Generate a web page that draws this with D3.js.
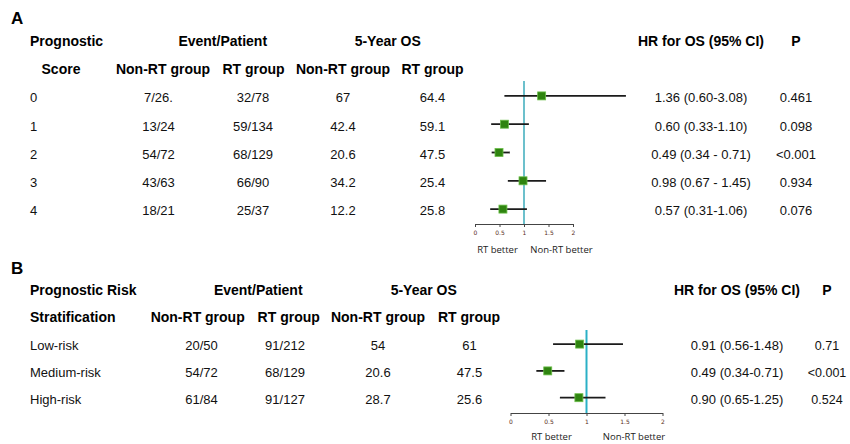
<!DOCTYPE html>
<html>
<head>
<meta charset="utf-8">
<script src="https://cdn.jsdelivr.net/npm/d3@7"></script>
<style>
  html, body { margin: 0; padding: 0; background: #fff; }
  svg { display: block; font-family: "Liberation Sans", Arial, sans-serif; }
</style>
</head>
<body>
<svg id="chart" width="850" height="444"></svg>
<script>
// ---- Panel A: prognostic score ----
const scoreLabels = ["0", "1", "2", "3", "4"];
const scoreNonRtEvents = ["7/26.", "13/24", "54/72", "43/63", "18/21"];
const scoreRtEvents = ["32/78", "59/134", "68/129", "66/90", "25/37"];
const scoreNonRtOs = ["67", "42.4", "20.6", "34.2", "12.2"];
const scoreRtOs = ["64.4", "59.1", "47.5", "25.4", "25.8"];
const scoreHr = [1.36, 0.60, 0.49, 0.98, 0.57];
const scoreLo = [0.60, 0.33, 0.34, 0.67, 0.31];
const scoreHi = [3.08, 1.10, 0.71, 1.45, 1.06];
const scoreSep = ["-", "-", " - ", " - ", "-"];
const scoreP = ["0.461", "0.098", "<0.001", "0.934", "0.076"];

// ---- Panel B: prognostic risk stratification ----
const riskLabels = ["Low-risk", "Medium-risk", "High-risk"];
const riskNonRtEvents = ["20/50", "54/72", "61/84"];
const riskRtEvents = ["91/212", "68/129", "91/127"];
const riskNonRtOs = ["54", "20.6", "28.7"];
const riskRtOs = ["61", "47.5", "25.6"];
const riskHr = [0.91, 0.49, 0.90];
const riskLo = [0.56, 0.34, 0.65];
const riskHi = [1.48, 0.71, 1.25];
const riskSep = ["-", "-", "-"];
const riskP = ["0.71", "<0.001", "0.524"];

const axisTicks = [0, 0.5, 1, 1.5, 2];

const svg = d3.select("#chart");
const f2 = d3.format(".2f");

function panel(cfg) {
  const g = svg.append("g");
  const n = cfg.labels.length;

  // panel letter
  g.append("text").attr("x", 11).attr("y", cfg.letterY).attr("dy", "0.35em")
    .attr("font-size", 17).attr("font-weight", "bold").text(cfg.letter);

  // header rows
  const hdr = (x, y, t, anchor) => g.append("text").attr("x", x).attr("y", y)
    .attr("dy", "0.35em").attr("font-size", 14).attr("font-weight", "bold")
    .attr("text-anchor", anchor || "middle").text(t);
  hdr(30, cfg.h1, cfg.head1, "start");
  hdr(cfg.head2X, cfg.h2, cfg.head2, cfg.head2Anchor);
  hdr((cfg.cols[0] + cfg.cols[1]) / 2 + cfg.epShift, cfg.h1, "Event/Patient");
  hdr((cfg.cols[2] + cfg.cols[3]) / 2, cfg.h1, "5-Year OS");
  hdr(cfg.headCols[0], cfg.h2, "Non-RT group");
  hdr(cfg.headCols[1], cfg.h2, "RT group");
  hdr(cfg.headCols[2], cfg.h2, "Non-RT group");
  hdr(cfg.headCols[3], cfg.h2, "RT group");
  hdr(cfg.hrX, cfg.h1, "HR for OS (95% CI)");
  hdr(cfg.pX, cfg.h1, "P");

  // row positions
  const y = d3.scalePoint().domain(d3.range(n))
    .range([cfg.rowTop, cfg.rowTop + cfg.rowStep * (n - 1)]);

  const cell = (x, i, t, anchor, size) => g.append("text").attr("x", x).attr("y", y(i))
    .attr("dy", "0.35em").attr("font-size", size || 13).attr("fill", "#111")
    .attr("text-anchor", anchor || "middle").text(t);

  d3.range(n).forEach(i => {
    cell(30, i, cfg.labels[i], "start");
    cell(cfg.cols[0], i, cfg.nonRtEv[i]);
    cell(cfg.cols[1], i, cfg.rtEv[i]);
    cell(cfg.cols[2], i, cfg.nonRtOs[i]);
    cell(cfg.cols[3], i, cfg.rtOs[i]);
    cell(cfg.hrX, i, `${f2(cfg.hr[i])} (${f2(cfg.lo[i])}${cfg.sep[i]}${f2(cfg.hi[i])})`);
    cell(cfg.pX, i, cfg.p[i], "middle", cfg.pSize);
  });

  // forest plot
  const x = d3.scaleLinear().domain([0, 2]).range(cfg.xRange);
  const fy = i => y(i) + cfg.forestShift;

  g.append("line")
    .attr("x1", x(1)).attr("x2", x(1))
    .attr("y1", cfg.refTop).attr("y2", cfg.axisY)
    .attr("stroke", cfg.refColor).attr("stroke-width", 2);

  const rows = g.append("g").selectAll("g").data(d3.range(n)).join("g");
  rows.append("line")
    .attr("x1", i => x(cfg.lo[i])).attr("x2", i => x(cfg.hi[i]))
    .attr("y1", fy).attr("y2", fy)
    .attr("stroke", "#1b1b1b").attr("stroke-width", 1.8);
  rows.append("rect")
    .attr("x", i => x(cfg.hr[i]) - 4).attr("y", i => fy(i) - 4)
    .attr("width", 8).attr("height", 8)
    .attr("fill", "#2f8410").attr("stroke", "#6cbf4a").attr("stroke-width", 0.8);

  const ax = g.append("g").attr("transform", `translate(0,${cfg.axisY})`)
    .call(d3.axisBottom(x).tickValues(axisTicks).tickFormat(d3.format("~g"))
      .tickSize(3).tickPadding(4).tickSizeOuter(0));
  ax.select(".domain").attr("stroke", "#444");
  ax.selectAll(".tick line").attr("stroke", "#444");
  ax.selectAll(".tick text").attr("font-size", 6).attr("fill", "#5a2c20")
    .attr("font-family", "'DejaVu Sans', sans-serif");

  const lab = (xx, t) => g.append("text").attr("x", xx).attr("y", cfg.axisY + cfg.labDy)
    .attr("dy", "0.35em").attr("font-size", 9.5).attr("text-anchor", "middle")
    .attr("fill", "#222").attr("font-family", "'Open Sans', sans-serif").text(t);
  lab(cfg.betterX[0], "RT better");
  lab(cfg.betterX[1], "Non-RT better");
}

panel({
  letter: "A", letterY: 18,
  head1: "Prognostic", head2: "Score", head2X: 61, head2Anchor: "middle",
  h1: 41, h2: 69,
  labels: scoreLabels, nonRtEv: scoreNonRtEvents, rtEv: scoreRtEvents,
  nonRtOs: scoreNonRtOs, rtOs: scoreRtOs,
  hr: scoreHr, lo: scoreLo, hi: scoreHi, sep: scoreSep, p: scoreP,
  cols: [158.5, 253, 343, 432.5], headCols: [163, 253.5, 343, 432.5], epShift: 17,
  hrX: 701, pX: 796, pSize: 13,
  rowTop: 97.7, rowStep: 28.3, forestShift: -1.8,
  xRange: [475, 573], refTop: 81, axisY: 224, refColor: "#6cc0cc",
  labDy: 26, betterX: [497.5, 561.5]
});

panel({
  letter: "B", letterY: 268,
  head1: "Prognostic Risk", head2: "Stratification", head2X: 30, head2Anchor: "start",
  h1: 290, h2: 317.5,
  labels: riskLabels, nonRtEv: riskNonRtEvents, rtEv: riskRtEvents,
  nonRtOs: riskNonRtOs, rtOs: riskRtOs,
  hr: riskHr, lo: riskLo, hi: riskHi, sep: riskSep, p: riskP,
  cols: [201.5, 285, 378, 469.5], headCols: [197.7, 288.7, 378, 469], epShift: 15,
  hrX: 737, pX: 827, pSize: 12.5,
  rowTop: 345.7, rowStep: 26.8, forestShift: -1.6,
  xRange: [510.5, 662.5], refTop: 330, axisY: 413, refColor: "#2ab0c6",
  labDy: 23.5, betterX: [551.5, 634]
});
</script>
</body>
</html>
